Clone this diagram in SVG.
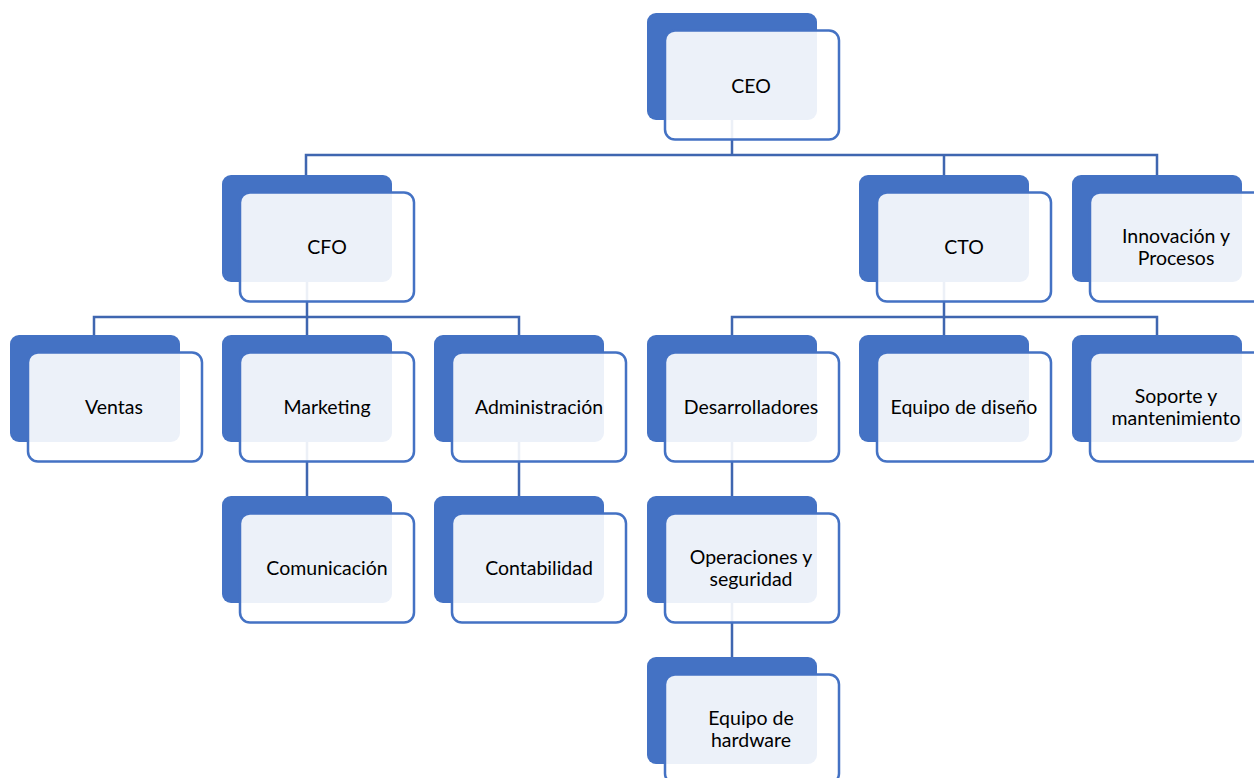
<svg xmlns="http://www.w3.org/2000/svg" width="1254" height="778" viewBox="0 0 1254 778">
<style>
.back{fill:#4472C4}
.front{fill:#ffffff;fill-opacity:0.9;stroke:#4472C4;stroke-width:2.5}
.lbl{font-family:Lato,"Noto Sans",sans-serif;font-size:19.5px;fill:#000;text-anchor:middle;dominant-baseline:central}
.conn{fill:none;stroke:#3F66B0;stroke-width:2.5}
</style>
<rect width="1254" height="778" fill="#ffffff"/>
<defs>
<g id="card">
<rect class="back" x="0" y="0" width="170" height="107" rx="9"/>
<rect class="front" x="18" y="17.5" width="174" height="109" rx="10"/>
</g>
</defs>
<g id="connectors">
<path class="conn" d="M732 120 V155 M306 175 V155 H1157 V175 M944 155 V175"/>
<path class="conn" d="M307 282 V317 M94 336 V317 H519 V336 M307 317 V336"/>
<path class="conn" d="M944 282 V317 M732 336 V317 H1157 V336 M944 317 V336"/>
<path class="conn" d="M307 442 V496 M519 442 V496 M732 442 V496 M732 603 V657"/>
</g>
<g id="ceo"><use href="#card" x="647" y="13"/><text class="lbl" x="751" y="85">CEO</text></g>
<g id="cfo"><use href="#card" x="222" y="175"/><text class="lbl" x="327" y="246">CFO</text></g>
<g id="cto"><use href="#card" x="859" y="175"/><text class="lbl" x="964" y="246">CTO</text></g>
<g id="innovacion"><use href="#card" x="1072" y="175"/><text class="lbl" x="1176" y="235">Innovación y</text><text class="lbl" x="1176" y="257">Procesos</text></g>
<g id="ventas"><use href="#card" x="10" y="335"/><text class="lbl" x="114" y="406">Ventas</text></g>
<g id="marketing"><use href="#card" x="222" y="335"/><text class="lbl" x="327" y="406">Marketing</text></g>
<g id="administracion"><use href="#card" x="434" y="335"/><text class="lbl" x="539" y="406">Administración</text></g>
<g id="desarrolladores"><use href="#card" x="647" y="335"/><text class="lbl" x="751" y="406">Desarrolladores</text></g>
<g id="diseno"><use href="#card" x="859" y="335"/><text class="lbl" x="964" y="406">Equipo de diseño</text></g>
<g id="soporte"><use href="#card" x="1072" y="335"/><text class="lbl" x="1176" y="395">Soporte y</text><text class="lbl" x="1176" y="417">mantenimiento</text></g>
<g id="comunicacion"><use href="#card" x="222" y="496"/><text class="lbl" x="327" y="567">Comunicación</text></g>
<g id="contabilidad"><use href="#card" x="434" y="496"/><text class="lbl" x="539" y="567">Contabilidad</text></g>
<g id="operaciones"><use href="#card" x="647" y="496"/><text class="lbl" x="751" y="556">Operaciones y</text><text class="lbl" x="751" y="578">seguridad</text></g>
<g id="hardware"><use href="#card" x="647" y="657"/><text class="lbl" x="751" y="717">Equipo de</text><text class="lbl" x="751" y="739">hardware</text></g>
</svg>
